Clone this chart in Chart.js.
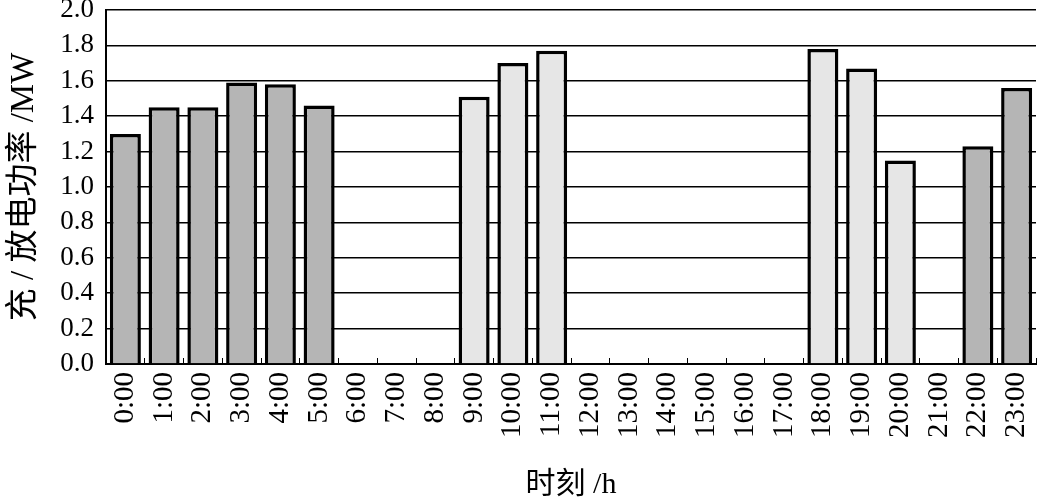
<!DOCTYPE html>
<html>
<head>
<meta charset="utf-8">
<script src="https://cdn.jsdelivr.net/npm/chart.js@4"></script>
<style>
  html, body { margin: 0; padding: 0; background: #fff; }
  #wrap { width: 1038px; height: 500px; }
</style>
</head>
<body>
<div id="wrap"><canvas id="powerChart" width="1038" height="500"></canvas></div>
<script>
// Chart.js global settings
Chart.defaults.font.family = '"Liberation Serif", "Noto Sans CJK SC", serif';
Chart.defaults.color = '#000';

// Hours of the day
const hours = ['0:00', '1:00', '2:00', '3:00', '4:00', '5:00', '6:00', '7:00', '8:00', '9:00', '10:00', '11:00',
    '12:00', '13:00', '14:00', '15:00', '16:00', '17:00', '18:00', '19:00', '20:00', '21:00', '22:00', '23:00'];

// Charging power (MW), dark bars
const charge = [1.30, 1.45, 1.45, 1.59, 1.58, 1.46, null, null, null, null, null, null,
    null, null, null, null, null, null, null, null, null, null, 1.23, 1.56];

// Discharging power (MW), light bars
const discharge = [null, null, null, null, null, null, null, null, null, 1.51, 1.70, 1.77,
    null, null, null, null, null, null, 1.78, 1.67, 1.15, null, null, null];

// Y axis ticks
const yMin = 0, yMax = 2.0, yStep = 0.2;

const ctx = document.getElementById('powerChart').getContext('2d');
const powerChart = new Chart(ctx, {
    type: 'bar',
    data: {
        labels: hours,
        datasets: [
            {
                label: '充电',
                data: charge,
                backgroundColor: '#b5b5b5',
                borderColor: '#000',
                borderWidth: 3.5,
                borderSkipped: 'start',
                barPercentage: 0.8,
                categoryPercentage: 1.0
            },
            {
                label: '放电',
                data: discharge,
                backgroundColor: '#e6e6e6',
                borderColor: '#000',
                borderWidth: 3.5,
                borderSkipped: 'start',
                barPercentage: 0.8,
                categoryPercentage: 1.0
            }
        ]
    },
    options: {
        responsive: false,
        animation: false,
        layout: { autoPadding: false, padding: { top: 10, right: 2, left: 0, bottom: 0 } },
        plugins: {
            legend: { display: false },
            tooltip: { enabled: false }
        },
        scales: {
            x: {
                stacked: true,
                border: { display: true, color: '#000', width: 2 },
                grid: {
                    offset: true,
                    drawOnChartArea: false,
                    drawTicks: true,
                    tickLength: -6,
                    color: '#000',
                    lineWidth: 1
                },
                ticks: {
                    autoSkip: false,
                    minRotation: 90,
                    maxRotation: 90,
                    padding: 14,
                    font: { size: 29 }
                },
                title: {
                    display: true,
                    text: '时刻 /h',
                    font: { size: 30, lineHeight: 1.0 },
                    padding: { top: 0, bottom: 0 }
                },
                afterFit: (scale) => {
                    scale.height = 136;
                    scale.paddingLeft = 0;
                    scale.paddingRight = 0;
                }
            },
            y: {
                stacked: true,
                min: yMin,
                max: yMax,
                border: { display: true, color: '#000', width: 2 },
                grid: {
                    color: '#000',
                    lineWidth: 1.5,
                    drawTicks: false
                },
                ticks: {
                    stepSize: yStep,
                    autoSkip: false,
                    padding: 12,
                    font: { size: 27 },
                    callback: (v) => Number(v).toFixed(1)
                },
                title: {
                    display: true,
                    text: '充 / 放电功率 /MW',
                    font: { size: 33, lineHeight: 1.2 },
                    padding: { top: 5, bottom: 0 }
                },
                afterFit: (scale) => {
                    scale.width = 106;
                    scale.paddingTop = 0;
                    scale.paddingBottom = 0;
                }
            }
        }
    }
});
</script>
</body>
</html>
